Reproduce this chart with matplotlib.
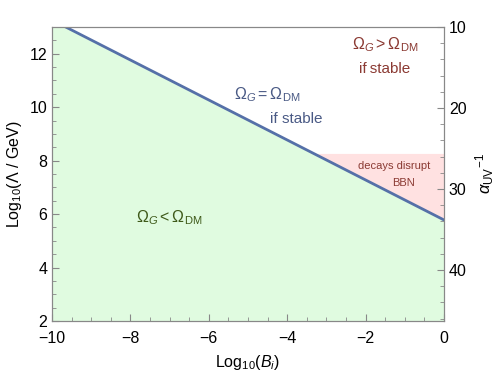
import matplotlib
matplotlib.use("Agg")
import matplotlib.pyplot as plt
import numpy as np
from matplotlib.ticker import MultipleLocator

plt.rcParams['font.family'] = ['Liberation Sans', 'DejaVu Sans']
plt.rcParams['mathtext.fontset'] = 'custom'
plt.rcParams['mathtext.rm'] = 'Liberation Sans'
plt.rcParams['mathtext.it'] = 'Liberation Sans:italic'

# data
line_x = [-9.65, 0.0]
line_y = [13.0, 5.78]
bbn_level = 8.27
xlim = (-10, 0)
ylim = (2, 13)
alpha_ticks = [10, 20, 30, 40]
# alpha_UV^-1 relation (linear): y = 13 - (a - 10) * k
k = 3.03 / 10.0

fig = plt.figure(figsize=(4.98, 3.75), dpi=100)
ax = fig.add_axes([52/498, 1-321/375, (444-52)/498, (321-27)/375])

xs = np.linspace(xlim[0], xlim[1], 400)
slope = (line_y[1]-line_y[0])/(line_x[1]-line_x[0])
ly_full = line_y[1] + slope*(xs - line_x[1])
ax.fill_between(xs, ylim[0], np.minimum(ly_full, ylim[1]), color='#e0fbe0', lw=0)
mask = ly_full <= bbn_level
ax.fill_between(xs[mask], ly_full[mask], bbn_level, color='#ffe1e1', lw=0)
ax.plot(line_x, line_y, color='#5570a8', lw=2)

ax.set_xlim(*xlim)
ax.set_ylim(*ylim)
ax.xaxis.set_major_locator(MultipleLocator(2))
ax.xaxis.set_minor_locator(MultipleLocator(0.5))
ax.yaxis.set_major_locator(MultipleLocator(2))
ax.yaxis.set_minor_locator(MultipleLocator(0.5))
ax.tick_params(which='both', direction='in', top=False, right=False, labelsize=11.5, color='#888888')
ax.tick_params(which='major', length=5)
ax.tick_params(which='minor', length=3)
ax.tick_params(axis='x', pad=7)
ax.set_xticks(ax.get_xticks())
ax.set_xticklabels([f'\u2212{abs(int(t))}' if t < 0 else f'{int(t)}' for t in ax.get_xticks()])
ax.set_xlim(*xlim)
for s in ax.spines.values():
    s.set_color('#888888')

ax.set_xlabel(r'Log$_{10}$($B_i$)', fontsize=11.5, labelpad=5)
ax.set_ylabel(r'Log$_{10}$($\Lambda$ / GeV)', fontsize=11.5, labelpad=4)

ax2 = ax.twinx()
ax2.set_ylim(*ylim)
ax2.set_yticks([13 - (a-10)*k for a in alpha_ticks])
ax2.set_yticklabels([str(a) for a in alpha_ticks])
ax2.set_yticks([13 - (a-10)*k for a in np.arange(10, 47, 2) if a % 10 != 0], minor=True)
ax2.tick_params(which='both', direction='in', labelsize=11.5, color='#888888')
ax2.tick_params(which='major', length=5)
ax2.tick_params(which='minor', length=3)
for s in ax2.spines.values():
    s.set_color('#888888')
fig.text(485/498, 1-174/375, r'$\alpha_{\mathrm{UV}}{}^{-1}$', fontsize=12,
         rotation=90, ha='center', va='center')

def px(x, y):
    return (-10 + (x-52)/39.2, 2 + (321-y)/26.73)

red = '#8b3a33'
blue = '#4a5a85'
green = '#3f5a1a'
ax.text(*px(385, 45), r'$\Omega_G > \Omega_{\mathrm{DM}}$', color=red, fontsize=11.5, ha='center', va='center')
ax.text(*px(385, 69), 'if\u2009stable', color=red, fontsize=11, ha='center', va='center')
ax.text(*px(267, 95), r'$\Omega_G = \Omega_{\mathrm{DM}}$', color=blue, fontsize=11.5, ha='center', va='center')
ax.text(*px(296, 119), 'if stable', color=blue, fontsize=11, ha='center', va='center')
ax.text(*px(169, 218), r'$\Omega_G < \Omega_{\mathrm{DM}}$', color=green, fontsize=11.5, ha='center', va='center')
ax.text(*px(394, 166), 'decays disrupt', color=red, fontsize=8, ha='center', va='center')
ax.text(*px(403, 183), 'BBN', color=red, fontsize=8, ha='center', va='center')

fig.savefig('out.png', dpi=100)
